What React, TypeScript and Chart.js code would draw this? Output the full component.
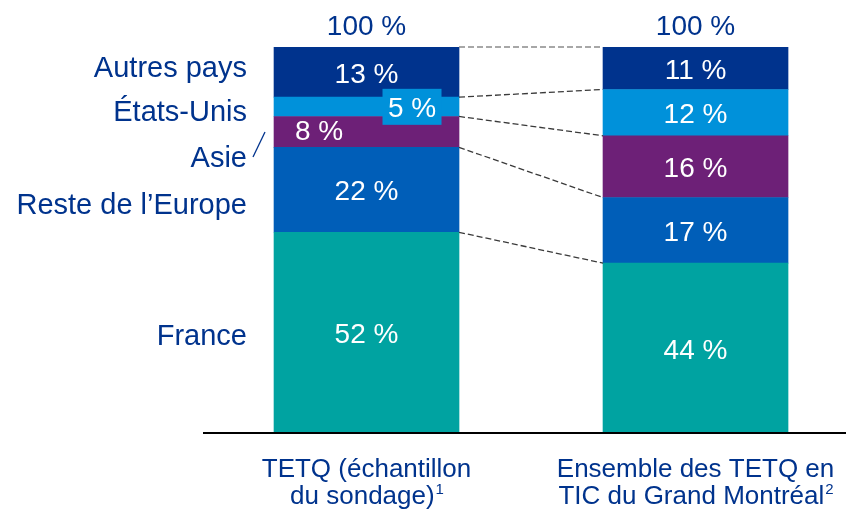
import React, { useEffect, useRef } from 'react';
import { Chart, registerables } from 'chart.js';

Chart.register(...registerables);

// ---- data ----
const categoryLines = [
  ['TETQ (échantillon', 'du sondage)'],
  ['Ensemble des TETQ en', 'TIC du Grand Montréal'],
];
const footnotes = ['1', '2'];
const seriesNames = ['France', 'Reste de l’Europe', 'Asie', 'États-Unis', 'Autres pays'];
const france = [52, 44];
const resteEurope = [22, 17];
const asie = [8, 16];
const etatsUnis = [5, 12];
const autresPays = [13, 11];
const totals = [100, 100];

// ---- style ----
const colors = ['#00A3A1', '#005EB8', '#6D2077', '#0091DA', '#00338D'];
const NAVY = '#00338D';
const FONT = '"Liberation Sans", Arial, sans-serif';
// legend label baseline offsets from left-bar segment centre (px)
const legendBaselineOffsets = [12, 24, 35, 14.5, 5];
// value label offsets [series][category] -> [dx, dy]
const labelOffsets: Record<string, [number, number]> = {
  '2-0': [-47.5, -2],
  '3-0': [45.5, 0],
};

const seriesValues = [france, resteEurope, asie, etatsUnis, autresPays];

const overlayPlugin = {
  id: 'overlay',
  afterDatasetsDraw(chart: any) {
    const ctx: CanvasRenderingContext2D = chart.ctx;
    const area = chart.chartArea;
    const metas = chart.data.datasets.map((_: any, i: number) => chart.getDatasetMeta(i));

    // dashed connectors
    ctx.save();
    ctx.setLineDash([6, 3]);
    ctx.lineWidth = 1.3;
    metas.forEach((meta: any, i: number) => {
      const a = meta.data[0];
      const b = meta.data[1];
      ctx.strokeStyle = i === metas.length - 1 ? '#8a8a8a' : '#3a3a3a';
      ctx.beginPath();
      ctx.moveTo(a.x + a.width / 2, a.y);
      ctx.lineTo(b.x - b.width / 2, b.y);
      ctx.stroke();
    });
    ctx.restore();

    // value labels
    ctx.save();
    ctx.textAlign = 'center';
    ctx.textBaseline = 'alphabetic';
    ctx.font = `28px ${FONT}`;
    metas.forEach((meta: any, i: number) => {
      meta.data.forEach((el: any, j: number) => {
        const off = labelOffsets[`${i}-${j}`] || [0, 0];
        const cx = el.x + off[0];
        const cy = (el.y + el.base) / 2 + off[1];
        if (i === 3 && j === 0) {
          ctx.fillStyle = colors[3];
          ctx.fillRect(cx - 29.5, cy - 18, 59, 36);
        }
        ctx.fillStyle = '#ffffff';
        ctx.fillText(`${seriesValues[i][j]} %`, cx, cy + 10.5);
      });
    });

    // totals
    ctx.fillStyle = NAVY;
    const topMeta = metas[metas.length - 1];
    topMeta.data.forEach((el: any, j: number) => {
      ctx.fillText(`${totals[j]} %`, el.x, el.y - 12);
    });

    // legend labels at left
    ctx.textAlign = 'right';
    ctx.font = `29px ${FONT}`;
    metas.forEach((meta: any, i: number) => {
      const el = meta.data[0];
      const cy = (el.y + el.base) / 2;
      ctx.fillText(seriesNames[i], area.left + 44, cy + legendBaselineOffsets[i]);
    });

    // small slash next to "Asie"
    const asieEl = metas[2].data[0];
    const asieCy = (asieEl.y + asieEl.base) / 2;
    ctx.strokeStyle = NAVY;
    ctx.lineWidth = 1.3;
    ctx.beginPath();
    ctx.moveTo(area.left + 50, asieCy + 25);
    ctx.lineTo(area.left + 62, asieCy);
    ctx.stroke();

    // category labels
    ctx.textAlign = 'left';
    metas[0].data.forEach((el: any, j: number) => {
      const [l1, l2] = categoryLines[j];
      ctx.font = `26px ${FONT}`;
      const w1 = ctx.measureText(l1).width;
      ctx.fillText(l1, el.x - w1 / 2, area.bottom + 44);
      const w2 = ctx.measureText(l2).width;
      ctx.font = `15px ${FONT}`;
      const ws = ctx.measureText(footnotes[j]).width;
      const start = el.x - (w2 + ws) / 2;
      ctx.font = `26px ${FONT}`;
      ctx.fillText(l2, start, area.bottom + 71);
      ctx.font = `15px ${FONT}`;
      ctx.fillText(footnotes[j], start + w2 + 1, area.bottom + 61);
    });

    // axis line
    ctx.strokeStyle = '#000000';
    ctx.lineWidth = 2;
    ctx.beginPath();
    ctx.moveTo(area.left, area.bottom);
    ctx.lineTo(area.right, area.bottom);
    ctx.stroke();
    ctx.restore();
  },
};

export default function App() {
  const ref = useRef<HTMLCanvasElement>(null);
  useEffect(() => {
    const chart = new Chart(ref.current as HTMLCanvasElement, {
      type: 'bar',
      data: {
        datasets: seriesValues.map((vals, i) => ({
          label: seriesNames[i],
          data: vals.map((v, j) => ({ x: j, y: v })),
          backgroundColor: colors[i],
          borderWidth: 0,
          barThickness: 185,
        })),
      },
      options: {
        responsive: false,
        animation: false,
        devicePixelRatio: 1,
        layout: { padding: { left: 203, right: 0, top: 47, bottom: 80 } },
        plugins: { legend: { display: false }, tooltip: { enabled: false } },
        scales: {
          x: {
            type: 'linear',
            stacked: true,
            offset: false,
            grid: { offset: false },
            min: -0.497,
            max: 1.4574,
            display: false,
          },
          y: { stacked: true, min: 0, max: 100, display: false },
        },
      } as any,
      plugins: [overlayPlugin],
    });
    return () => chart.destroy();
  }, []);
  return (
    <div style={{ position: 'absolute', left: 0, top: 0, width: 846, height: 513 }}>
      <canvas ref={ref} width={846} height={513} style={{ display: 'block', width: 846, height: 513 }} />
    </div>
  );
}
